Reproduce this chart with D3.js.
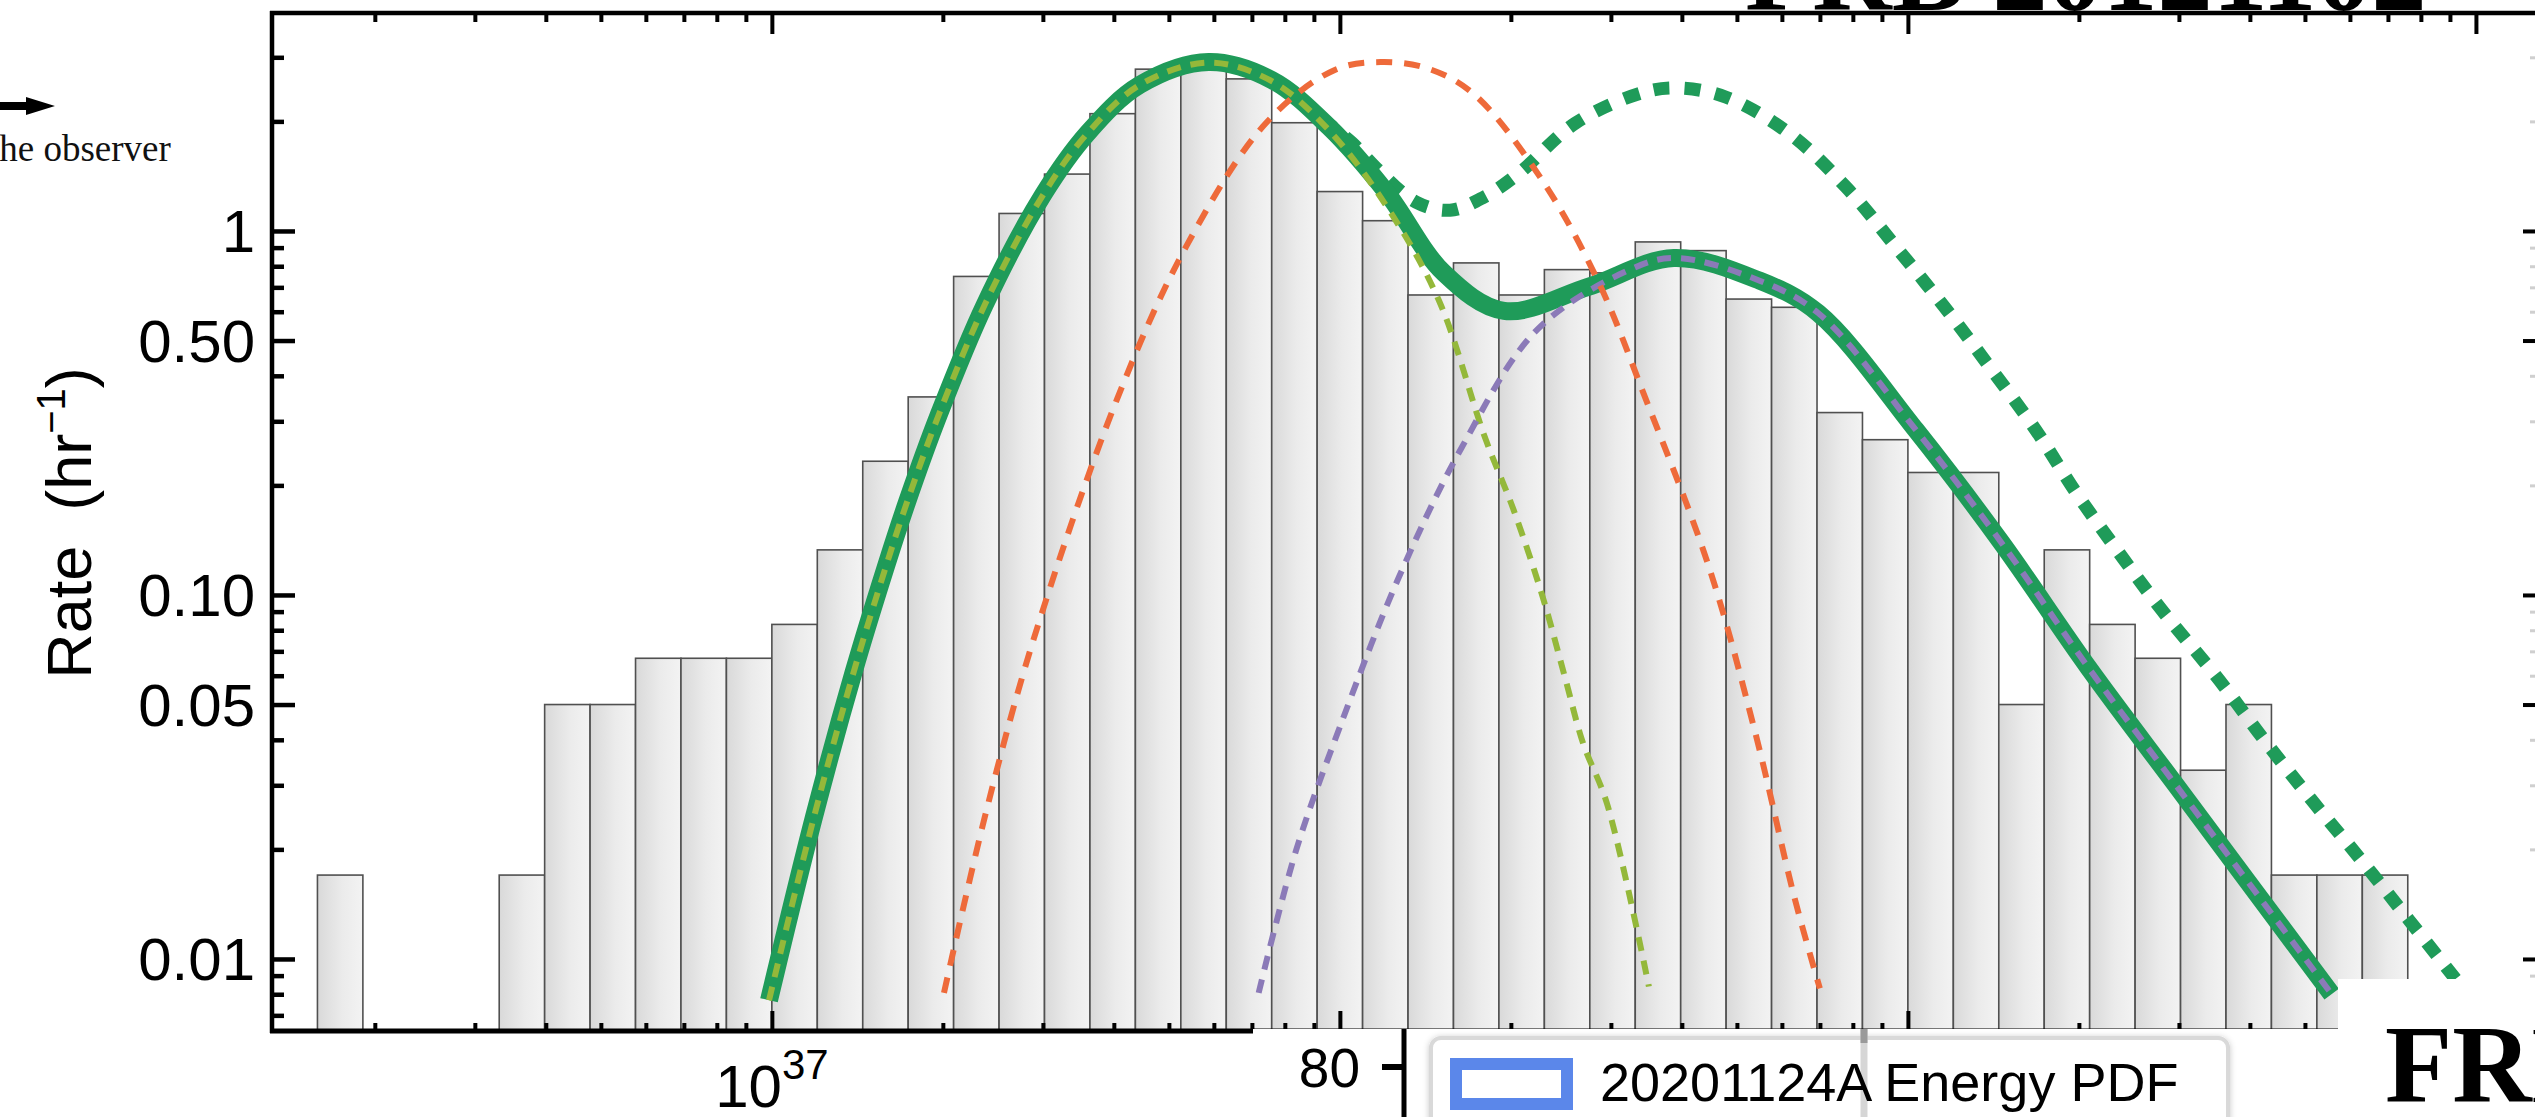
<!DOCTYPE html>
<html>
<head>
<meta charset="utf-8">
<script src="https://cdn.jsdelivr.net/npm/d3@7"></script>
<style>
  html, body { margin: 0; padding: 0; background: #fff; overflow: hidden; }
  text { font-family: "Liberation Sans", Arial, Helvetica, sans-serif; }
  .serif { font-family: "Liberation Serif", "Times New Roman", serif; }
</style>
</head>
<body>
<svg id="chart" width="2535" height="1117"></svg>
<script>
// ---- Histogram: log10(E / erg) bin edges and burst rate per bin (hr^-1) ----
const binEdgesLog = [36.20, 36.28, 36.36, 36.44, 36.52, 36.60, 36.68, 36.76, 36.84, 36.92,
                     37.00, 37.08, 37.16, 37.24, 37.32, 37.40, 37.48, 37.56, 37.64, 37.72,
                     37.80, 37.88, 37.96, 38.04, 38.12, 38.20, 38.28, 38.36, 38.44, 38.52,
                     38.60, 38.68, 38.76, 38.84, 38.92, 39.00, 39.08, 39.16, 39.24, 39.32,
                     39.40, 39.48, 39.56, 39.64, 39.72, 39.80, 39.88];
const binRates = [0.017, null, null, null, 0.017, 0.050, 0.050, 0.067, 0.067, 0.067,
                  0.083, 0.133, 0.233, 0.350, 0.750, 1.117, 1.433, 2.100, 2.783, 2.850,
                  2.617, 1.983, 1.283, 1.067, 0.667, 0.817, 0.667, 0.783, 0.767, 0.933,
                  0.883, 0.650, 0.617, 0.317, 0.267, 0.217, 0.217, 0.050, 0.133, 0.083,
                  0.067, 0.033, 0.050, 0.017, 0.017, 0.017];

// ---- Fitted curves: [log10(E), rate] ----
const fitTotal = [[36.995,0.0077],[37.074,0.0245],[37.144,0.0614],[37.201,0.120],[37.238,0.180],
                  [37.294,0.313],[37.375,0.628],[37.477,1.253],[37.556,1.858],[37.648,2.52],
                  [37.769,2.912],[37.880,2.600],[37.981,1.930],[38.083,1.271],[38.183,0.767],
                  [38.289,0.603],[38.437,0.702],[38.588,0.843],[38.739,0.73],[38.842,0.595],
                  [39.014,0.284],[39.165,0.139],[39.317,0.0634],[39.482,0.0286],[39.746,0.0080]];
const fitLowComp = [[36.995,0.0077],[37.074,0.0245],[37.144,0.0614],[37.201,0.120],[37.238,0.180],
                    [37.294,0.313],[37.375,0.628],[37.477,1.253],[37.556,1.858],[37.648,2.52],
                    [37.769,2.90],[37.880,2.58],[37.981,1.89],[38.083,1.164],[38.174,0.646],
                    [38.255,0.272],[38.306,0.171],[38.357,0.0988],[38.396,0.0596],[38.428,0.0392],
                    [38.470,0.0268],[38.544,0.0084]];
const fitShiftedComp = [[37.303,0.00807],[37.377,0.0253],[37.461,0.0757],[37.607,0.343],[37.729,0.904],
                        [37.870,1.98],[37.991,2.77],[38.072,2.91],[38.153,2.80],[38.234,2.39],
                        [38.356,1.38],[38.456,0.72],[38.537,0.350],[38.650,0.119],[38.731,0.042],
                        [38.800,0.0148],[38.845,0.0083]];
const fitHighComp = [[37.857,0.00807],[37.923,0.0199],[38.000,0.0434],[38.104,0.112],[38.215,0.255],
                     [38.347,0.535],[38.509,0.781],[38.590,0.843],[38.739,0.73],[38.842,0.595],
                     [39.014,0.284],[39.165,0.139],[39.317,0.0634],[39.482,0.0286],[39.746,0.0080]];
const fitAltTotal = [[37.880,2.60],[37.965,2.05],[38.021,1.75],[38.062,1.50],[38.134,1.20],[38.194,1.14],
                     [38.254,1.24],[38.315,1.44],[38.415,1.98],[38.537,2.41],[38.599,2.47],
                     [38.680,2.33],[38.790,1.86],[38.891,1.32],[38.979,0.904],[39.063,0.622],
                     [39.144,0.423],[39.225,0.284],[39.296,0.191],[39.368,0.133],[39.447,0.0909],
                     [39.548,0.0584],[39.627,0.040],[39.711,0.0273],[39.798,0.0187],[39.882,0.0128],
                     [39.961,0.00893],[40.04,0.0062]];

// ---- Axis ticks ----
const yTickValues = [1, 0.5, 0.1, 0.05, 0.01];
const yTickLabels = ["1", "0.50", "0.10", "0.05", "0.01"];
const xLabelExponents = [37];

const W = 2535, H = 1117;
const P = { left: 272, right: 2535, top: 13, bottom: 1031 };

const svg = d3.select("#chart");
const x = d3.scaleLog().domain([Math.pow(10, 36.12), Math.pow(10, 40.104)]).range([P.left, P.right]);
const y = d3.scaleLog().domain([0.00634, 3.97]).range([P.bottom, P.top]);
const xe = u => x(Math.pow(10, u));

const defs = svg.append("defs");
const grad = defs.append("linearGradient").attr("id", "barFill")
  .attr("x1", 0).attr("x2", 1).attr("y1", 0).attr("y2", 0);
grad.append("stop").attr("offset", "0%").attr("stop-color", "#d9d9d9");
grad.append("stop").attr("offset", "55%").attr("stop-color", "#ebebeb");
grad.append("stop").attr("offset", "100%").attr("stop-color", "#f3f3f3");
defs.append("clipPath").attr("id", "plotClip").append("rect")
  .attr("x", P.left).attr("y", P.top).attr("width", P.right - P.left).attr("height", P.bottom - P.top);
const sh = defs.append("filter").attr("id", "soft").attr("x", "-5%").attr("y", "-20%").attr("width", "110%").attr("height", "140%");
sh.append("feDropShadow").attr("dx", 0).attr("dy", 1).attr("stdDeviation", 3).attr("flood-color", "#000").attr("flood-opacity", 0.22);

// ---- Bars ----
const bins = binRates.map((r, i) => ({ u0: binEdgesLog[i], u1: binEdgesLog[i + 1], rate: r }))
  .filter(d => d.rate != null);
svg.append("g").selectAll("rect").data(bins).join("rect")
  .attr("x", d => xe(d.u0))
  .attr("width", d => xe(d.u1) - xe(d.u0))
  .attr("y", d => y(d.rate))
  .attr("height", d => P.bottom - y(d.rate))
  .attr("fill", "url(#barFill)")
  .attr("stroke", "#505050")
  .attr("stroke-width", 1.6);

// ---- Curves ----
const line = d3.line().x(d => xe(d[0])).y(d => y(d[1])).curve(d3.curveCatmullRom.alpha(0.5));
const curves = svg.append("g").attr("clip-path", "url(#plotClip)").attr("fill", "none");
const GREEN = "#1f9b59";
curves.append("path").attr("d", line(fitAltTotal)).attr("stroke", GREEN)
  .attr("stroke-width", 13).attr("stroke-dasharray", "16,15");
curves.append("path").attr("d", line(fitTotal)).attr("stroke", GREEN).attr("stroke-width", 18);
curves.append("path").attr("d", line(fitLowComp)).attr("stroke", "#94b83a")
  .attr("stroke-width", 6).attr("stroke-dasharray", "14,10");
curves.append("path").attr("d", line(fitHighComp)).attr("stroke", "#8b7ab8")
  .attr("stroke-width", 6).attr("stroke-dasharray", "14,10");
curves.append("path").attr("d", line(fitShiftedComp)).attr("stroke", "#ee6a3a")
  .attr("stroke-width", 6).attr("stroke-dasharray", "16,12");

// ---- Axes ----
const xMajor = [], xMinor = [];
for (let n = 36; n <= 40; n++) for (let k = 1; k <= 9; k++) {
  const v = k * Math.pow(10, n);
  if (v >= x.domain()[0] && v <= x.domain()[1]) (k === 1 ? xMajor : xMinor).push(v);
}
const yMajor = [], yMinor = [];
for (let n = -3; n <= 0; n++) for (let k = 1; k <= 9; k++) {
  const v = k * Math.pow(10, n);
  if (v >= y.domain()[0] && v <= y.domain()[1]) (k === 1 ? yMajor : yMinor).push(v);
}
const isLabelled = v => yTickValues.some(t => Math.abs(t - v) < 1e-9);
const yMajorTicks = yMinor.filter(isLabelled).concat(yMajor);
const yMinorTicks = yMinor.filter(v => !isLabelled(v));

function styleAxis(g, color, width) {
  g.select(".domain").remove();
  g.selectAll(".tick line").attr("stroke", color).attr("stroke-width", width);
  g.selectAll(".tick text").remove();
}
const axes = svg.append("g");
[[xMajor, 21], [xMinor, 9]].forEach(([vals, len]) => {
  axes.append("g").attr("transform", `translate(0,${P.top})`)
    .call(d3.axisBottom(x).tickValues(vals).tickSize(len)).call(g => styleAxis(g, "#000", 4));
  axes.append("g").attr("transform", `translate(0,${P.bottom})`)
    .call(d3.axisTop(x).tickValues(vals).tickSize(len - 1)).call(g => styleAxis(g, "#000", 4));
});
axes.append("g").attr("transform", `translate(${P.left},0)`)
  .call(d3.axisRight(y).tickValues(yMajorTicks).tickSize(23)).call(g => styleAxis(g, "#000", 4.5));
axes.append("g").attr("transform", `translate(${P.left},0)`)
  .call(d3.axisRight(y).tickValues(yMinorTicks).tickSize(12)).call(g => styleAxis(g, "#000", 4.5));
axes.append("g").attr("transform", `translate(${P.right},0)`)
  .call(d3.axisLeft(y).tickValues(yMajorTicks).tickSize(12)).call(g => styleAxis(g, "#000", 4));
axes.append("g").attr("transform", `translate(${P.right},0)`)
  .call(d3.axisLeft(y).tickValues(yMinorTicks).tickSize(5)).call(g => styleAxis(g, "#cfcfcf", 3));

// frame
axes.append("line").attr("x1", P.left - 2).attr("x2", P.right).attr("y1", P.top).attr("y2", P.top)
  .attr("stroke", "#000").attr("stroke-width", 4.5);
axes.append("line").attr("x1", P.left).attr("x2", P.left).attr("y1", P.top - 2).attr("y2", P.bottom + 2)
  .attr("stroke", "#000").attr("stroke-width", 4.5);
axes.append("line").attr("x1", P.left - 2).attr("x2", P.right).attr("y1", P.bottom).attr("y2", P.bottom)
  .attr("stroke", "#000").attr("stroke-width", 5);

// y tick labels
axes.append("g").selectAll("text").data(yTickValues).join("text")
  .attr("x", 255).attr("y", d => y(d) + 21)
  .attr("text-anchor", "end").attr("font-size", 60)
  .text((d, i) => yTickLabels[i]);

// x tick label (10^n)
const xl = axes.append("g").selectAll("text").data(xLabelExponents).join("text")
  .attr("x", d => x(Math.pow(10, d))).attr("y", 1107)
  .attr("text-anchor", "middle").attr("font-size", 60);
xl.append("tspan").text("10");
xl.append("tspan").attr("dy", -28).attr("font-size", 42).text(d => d);

// y axis title
const yt = svg.append("text")
  .attr("transform", "translate(91,523) rotate(-90)")
  .attr("text-anchor", "middle").attr("font-size", 63);
yt.append("tspan").text("Rate\u00a0\u00a0(hr");
yt.append("tspan").attr("dy", -26).attr("font-size", 40).text("\u22121");
yt.append("tspan").attr("dy", 26).text(")");

// ---- Title across the top ----
svg.append("text").attr("class", "serif").attr("x", 1745).attr("y", 10)
  .attr("font-size", 110).attr("font-weight", "bold").text("FRB 20121102");

// ---- Note at upper left: arrow towards the observer ----
svg.append("path").attr("d", "M0,102 L26,102 L26,97 L55,106 L26,115 L26,110 L0,110 Z").attr("fill", "#000");
svg.append("text").attr("class", "serif").attr("x", -11).attr("y", 161)
  .attr("font-size", 37).attr("fill", "#111").text("the observer");

// ---- Lower panel strip: axis fragment and legend ----
const lower = svg.append("g");
lower.append("rect").attr("x", 1253).attr("y", 1029).attr("width", 2345 - 1253).attr("height", H - 1029).attr("fill", "#fff");
lower.append("line").attr("x1", 1404).attr("x2", 1404).attr("y1", 1029).attr("y2", H).attr("stroke", "#000").attr("stroke-width", 5);
lower.append("line").attr("x1", 1382).attr("x2", 1404).attr("y1", 1067).attr("y2", 1067).attr("stroke", "#000").attr("stroke-width", 6);
lower.append("text").attr("x", 1360).attr("y", 1087).attr("text-anchor", "end").attr("font-size", 55).text("80");
lower.append("rect").attr("x", 1431).attr("y", 1038).attr("width", 797).attr("height", 130).attr("rx", 10)
  .attr("fill", "#fff").attr("stroke", "#d9d9d9").attr("stroke-width", 4).attr("filter", "url(#soft)");
lower.append("line").attr("x1", 1864).attr("x2", 1864).attr("y1", 1029).attr("y2", H)
  .attr("stroke", "#d6d6d6").attr("stroke-width", 7);
lower.append("line").attr("x1", 1864).attr("x2", 1864).attr("y1", 1029).attr("y2", 1043)
  .attr("stroke", "#9a9a9a").attr("stroke-width", 7);
lower.append("rect").attr("x", 1456).attr("y", 1064).attr("width", 111).attr("height", 40)
  .attr("fill", "#fff").attr("stroke", "#5b87ea").attr("stroke-width", 12);
lower.append("text").attr("x", 1600).attr("y", 1101).attr("font-size", 54).text("20201124A Energy PDF");

// ---- Lower-right caption block ----
svg.append("rect").attr("x", 2338).attr("y", 979).attr("width", W - 2338).attr("height", H - 979).attr("fill", "#fff");
svg.append("text").attr("class", "serif").attr("x", 2385).attr("y", 1102)
  .attr("font-size", 110).attr("font-weight", "bold").text("FRB");
</script>
</body>
</html>
